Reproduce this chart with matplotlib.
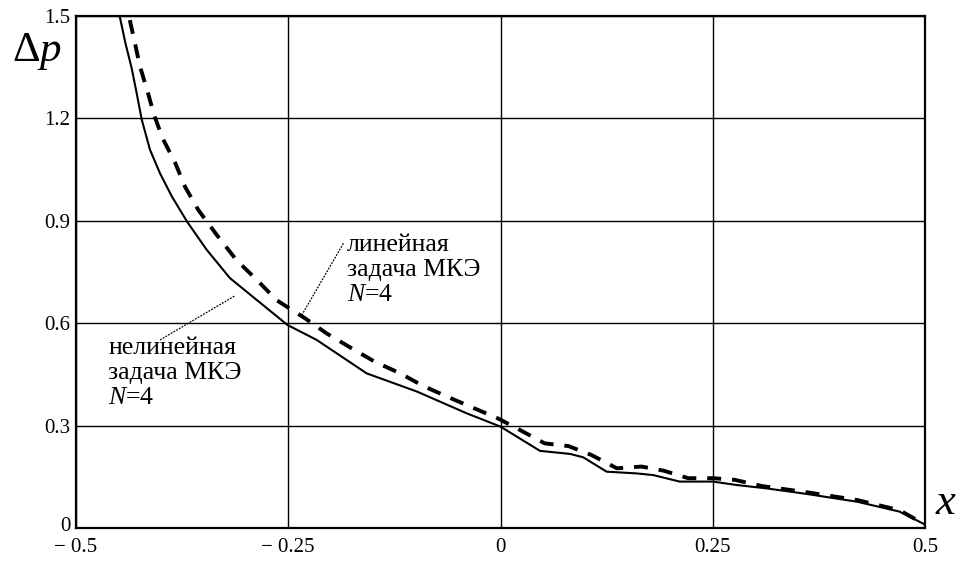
import matplotlib
matplotlib.use("Agg")
import matplotlib.pyplot as plt
from matplotlib.transforms import ScaledTranslation

plt.rcParams['font.family'] = ['Liberation Serif', 'DejaVu Serif']
plt.rcParams['mathtext.fontset'] = 'custom'
plt.rcParams['mathtext.rm'] = 'Liberation Serif'
plt.rcParams['mathtext.it'] = 'Liberation Serif:italic'

# nonlinear FEM problem, N=4 (solid)
x_nonlin = [-0.4484, -0.4417, -0.4344, -0.4285, -0.4226, -0.4128, -0.401, -0.387, -0.369,
            -0.346, -0.3186, -0.251, -0.2165, -0.1576, -0.0987, -0.0398, 0.0, 0.0465,
            0.082, 0.0975, 0.125, 0.160, 0.18, 0.211, 0.25, 0.278, 0.3135, 0.36, 0.42,
            0.47, 0.5]
y_nonlin = [1.498, 1.420, 1.347, 1.274, 1.197, 1.108, 1.039, 0.971, 0.897,
            0.815, 0.732, 0.595, 0.551, 0.453, 0.400, 0.336, 0.297, 0.226,
            0.217, 0.207, 0.165, 0.160, 0.155, 0.136, 0.136, 0.126, 0.116, 0.100, 0.077,
            0.048, 0.010]

# linear FEM problem, N=4 (dashed)
x_lin = [-0.4366, -0.4305, -0.4246, -0.4156, -0.408, -0.398, -0.383, -0.3716, -0.356,
         -0.334, -0.311, -0.285, -0.264, -0.230, -0.2047, -0.175, -0.148, -0.118, -0.091,
         -0.063, -0.034, -0.003, 0.023, 0.052, 0.080, 0.107, 0.137, 0.166, 0.192, 0.221,
         0.25, 0.276, 0.3077, 0.36, 0.42, 0.47, 0.5]
y_lin = [1.488, 1.420, 1.352, 1.278, 1.210, 1.142, 1.069, 1.000, 0.932,
         0.858, 0.785, 0.722, 0.668, 0.614, 0.570, 0.526, 0.487, 0.453, 0.416,
         0.385, 0.354, 0.321, 0.287, 0.248, 0.240, 0.214, 0.175, 0.180, 0.168, 0.146,
         0.146, 0.141, 0.123, 0.105, 0.082, 0.052, 0.010]

x_ticks = [-0.5, -0.25, 0, 0.25, 0.5]
x_labels = ['\u2212 0.5', '\u2212 0.25', '0', '0.25', '0.5']
y_ticks = [0, 0.3, 0.6, 0.9, 1.2, 1.5]
y_labels = ['0', '0.3', '0.6', '0.9', '1.2', '1.5']

fig = plt.figure(figsize=(9.58, 5.62), dpi=100)
ax = fig.add_axes([0.0793, 0.0605, 0.9656 - 0.0793, 0.9715 - 0.0605])

ax.plot(x_nonlin, y_nonlin, color='black', lw=1.5)
ax.plot(x_lin, y_lin, color='black', lw=2.8, linestyle=(0, (3.6, 2.8)))

ax.set_xlim(-0.5, 0.5)
ax.set_ylim(0, 1.5)
ax.set_xticks(x_ticks)
ax.set_xticklabels(x_labels)
ax.set_yticks(y_ticks)
ax.set_yticklabels(y_labels)
ax.tick_params(length=0, labelsize=15)
ax.tick_params(axis='x', pad=7)
ax.tick_params(axis='y', pad=4)
ax.grid(True, color='black', lw=1.0)
for s in ax.spines.values():
    s.set_linewidth(1.6)

# lift the "0" on the y axis a little so it clears "- 0.5"
lab0 = ax.get_yticklabels()[0]
lab0.set_transform(lab0.get_transform() + ScaledTranslation(0, 3 / 72, fig.dpi_scale_trans))

# callouts
ax.plot([-0.401, -0.313], [0.551, 0.680], color='black', lw=0.9, linestyle=(0, (1.5, 1)))
ax.plot([-0.185, -0.234], [0.834, 0.624], color='black', lw=0.9, linestyle=(0, (1.5, 1)))
ax.text(-0.462, 0.454, 'нелинейная\nзадача МКЭ\n$\\mathit{N}$=4', fontsize=18.5,
        ha='left', va='center', linespacing=1.15)
ax.text(-0.181, 0.756, 'линейная\nзадача МКЭ\n$\\mathit{N}$=4', fontsize=18.5,
        ha='left', va='center', linespacing=1.15)

fig.text(37 / 958, 1 - 52 / 562, '$\\Delta\\mathit{p}$', fontsize=31, ha='center', va='center')
fig.text(946 / 958, 1 - 503 / 562, '$\\mathit{x}$', fontsize=32, ha='center', va='center')

fig.savefig('out.png', dpi=100)
